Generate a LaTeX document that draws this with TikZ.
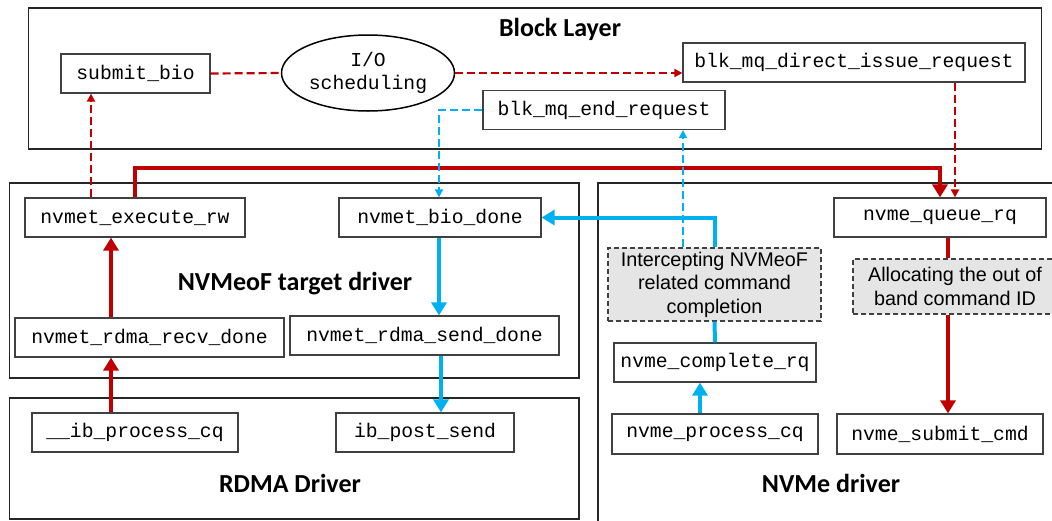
\documentclass[tikz,border=0pt]{standalone}
\usepackage{fontspec}
\setmainfont{Liberation Sans}
\setmonofont{Liberation Mono}
\newfontfamily\headfont{Carlito}
\usepackage{tikz}
\usetikzlibrary{
  calc,arrows.meta,positioning,shapes.geometric
}
\definecolor{callred}{RGB}{192,0,0}
\definecolor{donblue}{RGB}{0,176,240}
\tikzset{
  layer/.style={draw=black!85,line width=0.75pt},
  head/.style={font=\headfont\bfseries\fontsize{13}{15}\selectfont},
  func/.style={draw=black!75,fill=white,line width=0.6pt,inner sep=0pt,
    minimum height=19.5pt,font=\fontsize{9.85}{11.7}\ttfamily},
  note/.style={draw=black!75,fill=black!10,dashed,dash pattern=on 2.5pt off 1.5pt,
    line width=0.6pt,inner sep=0pt,align=center,font=\fontsize{9.9}{11.7}\selectfont},
  calltrace/.style={callred,line width=2.2pt},
  donetrace/.style={donblue,line width=2pt},
  callhint/.style={callred,line width=1.1pt,dash pattern=on 4pt off 2pt},
  donehint/.style={donblue,line width=0.85pt,dash pattern=on 4pt off 2pt}
}
\tikzstyle{bigtip} = [-{Triangle[length=6.5pt,width=7.5pt]}]
\tikzstyle{smalltip} = [-{Triangle[length=4pt,width=4pt]}]

\begin{document}
\begin{tikzpicture}[x=0.5pt,y=-0.5pt]
  \clip (0,0) rectangle (1052,520);
  % layers
  \draw[layer] (28.7,8) rectangle (1041.6,149);
  \draw[layer] (9.6,183) rectangle (579,378);
  \draw[layer] (9.6,398) rectangle (579,519);
  \draw[layer] (598,183) rectangle (1070,540);
  \node[head] (blocktitle) at (560,29) {Block Layer};
  \node[head] (targettitle) at (295,284) {NVMeoF target driver};
  \node[head] (rdmatitle) at (290,483) {RDMA Driver};
  \node[head] (nvmetitle) at (831,483) {NVMe driver};
  % block layer
  \node[func,minimum width=74.5pt] (submit) at (135.5,73.5) {submit\_bio};
  \node[draw=black,line width=0.75pt,fill=white,ellipse,inner sep=0pt,align=center,
    minimum width=86.5pt,minimum height=38pt,font=\fontsize{9.85}{11.7}\ttfamily]
    (iosched) at (368,73) {I/O\\scheduling};
  \node[func,minimum width=171pt] (direct) at (854,62.5) {blk\_mq\_direct\_issue\_request};
  \node[func,minimum width=121pt] (endreq) at (604,110) {blk\_mq\_end\_request};
  % NVMeoF target and RDMA
  \node[func,minimum width=110pt] (execute) at (135,217.5) {nvmet\_execute\_rw};
  \node[func,minimum width=101pt] (biodone) at (440,217.5) {nvmet\_bio\_done};
  \node[func,minimum width=134.5pt] (recvdone) at (149.5,337.5) {nvmet\_rdma\_recv\_done};
  \node[func,minimum width=134.5pt] (senddone) at (424.5,335.5) {nvmet\_rdma\_send\_done};
  \node[func,minimum width=103pt] (ibproc) at (135,432.5) {\_\_ib\_process\_cq};
  \node[func,minimum width=89pt] (ibpost) at (425,432.5) {ib\_post\_send};
  % NVMe driver
  \node[func,minimum width=106pt] (queuerq) at (940,217.5) {nvme\_queue\_rq};
  \node[note,minimum width=102pt,minimum height=27.5pt] (alloc) at (955,286.5)
    {Allocating the out of\\band command ID};
  \node[note,minimum width=106.5pt,minimum height=36.5pt] (intercept) at (714.5,284.5)
    {Intercepting NVMeoF\\related command\\completion};
  \node[func,minimum width=101pt] (complete) at (715,362.5) {nvme\_complete\_rq};
  \node[func,minimum width=103pt,minimum height=20pt] (nvproc) at (715,434) {nvme\_process\_cq};
  \node[func,minimum width=103pt,minimum height=20pt] (submitcmd) at (940,434) {nvme\_submit\_cmd};
  % pins where connectors leave off centre
  \coordinate (busy) at (0,168);
  \coordinate (pinsubmit) at ($(execute.north)+(-44,0)$);
  \coordinate (pinissue) at ($(direct.south)+(101,0)$);
  \coordinate (pinrecv) at ($(ibproc.north)+(-24,0)$);
  \coordinate (pinalloc) at ($(queuerq.south)+(8,0)$);
  \coordinate (pinproc) at ($(nvproc.north)+(-15,0)$);
  \coordinate (pinend) at ($(intercept.north)+(-31.5,0)$);
  \coordinate (pinbio) at ($(biodone.south)+(-1,0)$);
  \coordinate (pinpost) at ($(ibpost.north)+(16,0)$);
  % submission path
  \draw[callhint] (submit.east) -- (iosched.west);
  \draw[callhint,smalltip] (iosched.east) -- (iosched.east -| direct.west);
  \draw[callhint,smalltip] (pinissue) -- (pinissue |- queuerq.north);
  \draw[callhint,smalltip] (pinsubmit) -- (pinsubmit |- submit.south);
  \draw[calltrace,bigtip] (execute.north) -- (execute.north |- busy) -| (queuerq.north);
  \draw[calltrace,bigtip] (pinrecv |- recvdone.north) -- (pinrecv |- execute.south);
  \draw[calltrace,bigtip] (pinrecv) -- (pinrecv |- recvdone.south);
  \draw[calltrace] (pinalloc) -- (pinalloc |- alloc.north);
  \draw[calltrace,bigtip] (pinalloc |- alloc.south) -- (pinalloc |- submitcmd.north);
  % completion path
  \draw[donetrace,bigtip] (pinproc) -- (pinproc |- complete.south);
  \draw[donetrace] (complete.north) -- (intercept.south);
  \draw[donetrace,bigtip] (intercept.north) |- (biodone.east);
  \draw[donehint,smalltip] (pinend) -- (pinend |- endreq.south);
  \draw[donehint,smalltip] (endreq.west) -| (pinbio |- biodone.north);
  \draw[donetrace,bigtip] (pinbio) -- (pinbio |- senddone.north);
  \draw[donetrace,bigtip] (pinpost |- senddone.south) -- (pinpost);
\end{tikzpicture}
\end{document}
